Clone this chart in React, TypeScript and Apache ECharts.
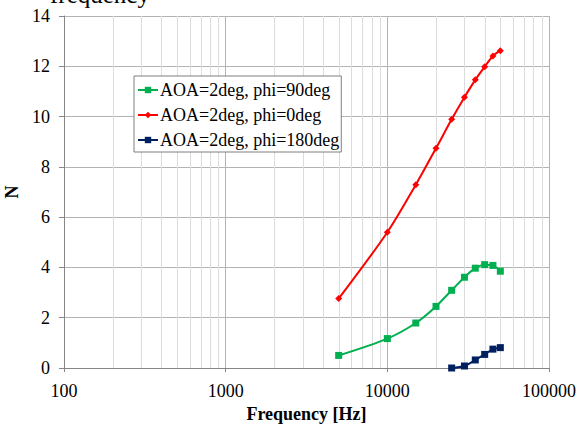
import React, { useEffect, useRef } from "react";
import * as echarts from "echarts";

const freq90 = [5000, 10000, 15000, 20000, 25000, 30000, 35000, 40000, 45000, 50000];
const n90 = [0.5, 1.17, 1.79, 2.45, 3.09, 3.61, 3.97, 4.11, 4.08, 3.85];
const freq0 = [5000, 10000, 15000, 20000, 25000, 30000, 35000, 40000, 45000, 50000];
const n0 = [2.76, 5.4, 7.29, 8.74, 9.89, 10.77, 11.46, 11.98, 12.41, 12.62];
const freq180 = [25000, 30000, 35000, 40000, 45000, 50000];
const n180 = [0.0, 0.08, 0.32, 0.54, 0.75, 0.81];
const minorFreqs = [
  200, 300, 400, 500, 600, 700, 800, 900,
  2000, 3000, 4000, 5000, 6000, 7000, 8000, 9000,
  20000, 30000, 40000, 50000, 60000, 70000, 80000, 90000,
];
const seriesNames = ["AOA=2deg, phi=90deg", "AOA=2deg, phi=0deg", "AOA=2deg, phi=180deg"];
const yMin = 0;
const yMax = 14;

const FONT = "Liberation Serif";

export default function App() {
  const ref = useRef<HTMLDivElement>(null);
  useEffect(() => {
    if (!ref.current) return;
    const chart = echarts.init(ref.current, null, { renderer: "svg" });
    const zip = (xs: number[], ys: number[]) => xs.map((x, i) => [x, ys[i]]);
    chart.setOption({
      animation: false,
      backgroundColor: "#ffffff",
      textStyle: { fontFamily: FONT },
      grid: { left: 64, right: 37, top: 16, bottom: 56, containLabel: false, outerBoundsMode: "none" },
      graphic: [
        {
          type: "text",
          left: 50,
          top: -18,
          style: { text: "frequency", fontFamily: FONT, fontSize: 25, fill: "#000" },
        },
      ],
      legend: {
        orient: "vertical",
        left: 134,
        top: 76,
        data: seriesNames,
        backgroundColor: "#fff",
        borderColor: "#7f7f7f",
        borderWidth: 1,
        padding: [5, 2, 3, 3],
        itemGap: 7,
        itemWidth: 20,
        itemHeight: 8,
        textStyle: { fontFamily: FONT, fontSize: 18, color: "#000", padding: [0, 0, 0, -3] },
      },
      xAxis: {
        type: "log",
        logBase: 10,
        min: 100,
        max: 100000,
        name: "Frequency [Hz]",
        nameLocation: "middle",
        nameGap: 35,
        nameTextStyle: { fontFamily: FONT, fontSize: 18, fontWeight: "bold", color: "#000" },
        axisLine: { show: true, lineStyle: { color: "#868686" } },
        axisTick: { show: true, length: 4, lineStyle: { color: "#868686" } },
        axisLabel: {
          fontFamily: FONT,
          fontSize: 18,
          color: "#000",
          margin: 14,
          formatter: (v: number) => String(Math.round(v)),
        },
        splitLine: { show: true, lineStyle: { color: "#b3b3b3", width: 1 } },
      },
      yAxis: {
        type: "value",
        min: yMin,
        max: yMax,
        interval: 2,
        name: "N",
        nameLocation: "middle",
        nameGap: 39,
        nameRotate: 90,
        nameTextStyle: { fontFamily: FONT, fontSize: 18, fontWeight: "bold", color: "#000" },
        axisLine: { show: true, lineStyle: { color: "#868686" } },
        axisTick: { show: true, length: 5, lineStyle: { color: "#868686" } },
        axisLabel: { fontFamily: FONT, fontSize: 18, color: "#000", margin: 14 },
        splitLine: { show: true, lineStyle: { color: "#b3b3b3", width: 1 } },
      },
      series: [
        {
          name: "minor",
          type: "custom",
          silent: true,
          z: 1,
          data: minorFreqs.map((f) => [f, yMin]),
          renderItem: (params: any, api: any) => {
            const f = api.value(0);
            const p0 = api.coord([f, yMin]);
            const p1 = api.coord([f, yMax]);
            return {
              type: "line",
              shape: { x1: Math.round(p0[0]) + 0.5, y1: p0[1], x2: Math.round(p0[0]) + 0.5, y2: p1[1] },
              style: { stroke: "#dcdcdc", lineWidth: 1 },
            };
          },
        },
        {
          name: seriesNames[0],
          type: "line",
          data: zip(freq90, n90),
          smooth: 0.3,
          symbol: "rect",
          symbolSize: 7,
          color: "#00B050",
          itemStyle: { color: "#00B050", borderWidth: 0 },
          lineStyle: { width: 2, color: "#00B050" },
          z: 3,
        },
        {
          name: seriesNames[1],
          type: "line",
          data: zip(freq0, n0),
          smooth: 0.3,
          symbol: "diamond",
          symbolSize: 7,
          color: "#FF0000",
          itemStyle: { color: "#FF0000", borderWidth: 0 },
          lineStyle: { width: 2, color: "#FF0000" },
          z: 3,
        },
        {
          name: seriesNames[2],
          type: "line",
          data: zip(freq180, n180),
          smooth: 0.3,
          symbol: "rect",
          symbolSize: 7,
          color: "#002060",
          itemStyle: { color: "#002060", borderWidth: 0 },
          lineStyle: { width: 2, color: "#002060" },
          z: 3,
        },
      ],
    });
    return () => chart.dispose();
  }, []);
  return <div ref={ref} style={{ width: 586, height: 424, position: "absolute", left: 0, top: 0 }} />;
}
